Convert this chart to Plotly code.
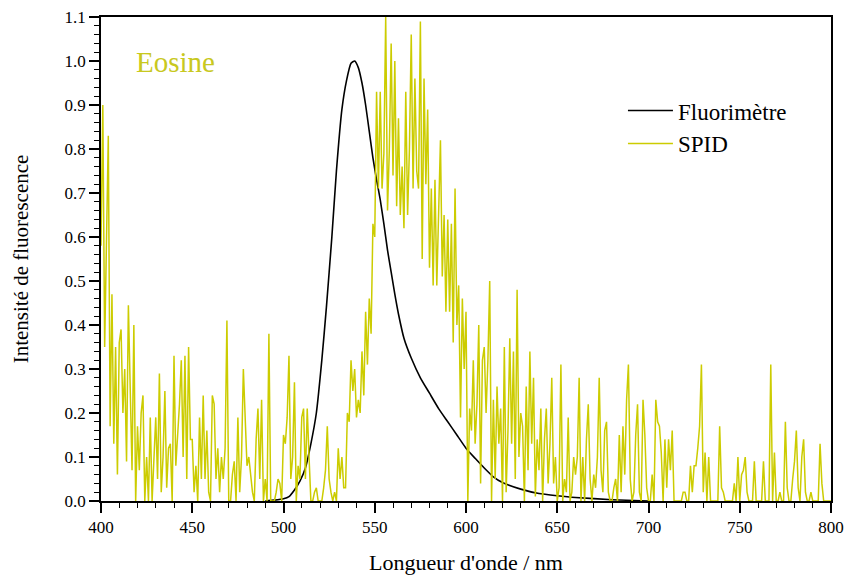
import plotly.graph_objects as go

# Fluorimètre (smooth reference spectrum)
fluor_x = [490, 495, 500, 503, 506, 509, 512, 515, 518, 521, 523.5, 526.5, 529, 532, 534.5, 537,
           539, 541, 543, 545, 547, 549, 551, 553, 555, 557, 559, 561, 563, 566, 570, 575,
           580, 585, 590, 595, 600, 605, 610, 615, 620, 630, 640, 650, 660, 680, 700]
fluor_y = [0.0, 0.002, 0.005, 0.01, 0.025, 0.045, 0.075, 0.13, 0.2, 0.32, 0.44, 0.6, 0.75, 0.89, 0.955, 0.995,
           1.0, 0.985, 0.95, 0.9, 0.84, 0.78, 0.73, 0.685, 0.63, 0.57, 0.52, 0.47, 0.425, 0.37, 0.325, 0.28,
           0.245, 0.21, 0.18, 0.15, 0.12, 0.097, 0.075, 0.055, 0.042, 0.027, 0.017, 0.012, 0.008, 0.003, 0.0]

# SPID (noisy spectrum), 1 nm steps from 400 nm
spid_start = 400
spid_y = [
    # 400-409
    0.58, 0.90, 0.35, 0.55, 0.83, 0.17, 0.47, 0.13, 0.35, 0.06,
    # 410-419
    0.36, 0.39, 0.20, 0.30, 0.09, 0.445, 0.26, 0.07, 0.40, 0.0,
    # 420-429
    0.17, 0.07, 0.20, 0.24, 0.0, 0.10, 0.0, 0.19, 0.0, 0.08,
    # 430-439
    0.19, 0.05, 0.29, 0.02, 0.10, 0.25, 0.03, 0.12, 0.13, 0.0,
    # 440-449
    0.33, 0.08, 0.15, 0.22, 0.32, 0.10, 0.33, 0.05, 0.35, 0.14,
    # 450-459
    0.14, 0.02, 0.08, 0.0, 0.19, 0.05, 0.24, 0.05, 0.16, 0.02,
    # 460-469
    0.0, 0.24, 0.22, 0.05, 0.12, 0.02, 0.10, 0.05, 0.12, 0.41,
    # 470-479
    0.0, 0.0, 0.06, 0.09, 0.0, 0.19, 0.02, 0.10, 0.30, 0.17,
    # 480-489
    0.08, 0.10, 0.05, 0.02, 0.0, 0.14, 0.21, 0.05, 0.23, 0.0,
    # 490-499
    0.05, 0.0, 0.38, 0.0, 0.0, 0.0, 0.02, 0.05, 0.04, 0.0,
    # 500-509
    0.15, 0.13, 0.19, 0.33, 0.05, 0.10, 0.27, 0.0, 0.08, 0.05,
    # 510-519
    0.19, 0.21, 0.05, 0.21, 0.10, 0.0, 0.0, 0.02, 0.03, 0.0,
    # 520-529
    0.0, 0.0, 0.03, 0.07, 0.17, 0.05, 0.02, 0.0, 0.02, 0.0,
    # 530-539
    0.12, 0.05, 0.10, 0.03, 0.03, 0.20, 0.18, 0.32, 0.25, 0.30,
    # 540-549
    0.19, 0.23, 0.20, 0.34, 0.24, 0.43, 0.31, 0.46, 0.38, 0.63,
    # 550-559
    0.60, 0.93, 0.71, 0.93, 0.71, 0.79, 1.10, 0.66, 0.80, 1.04,
    # 560-569
    0.74, 1.00, 0.67, 0.87, 0.65, 0.76, 0.62, 0.93, 0.65, 0.80,
    # 570-579
    1.06, 0.71, 0.96, 0.75, 0.71, 1.09, 0.55, 0.96, 0.72, 0.89,
    # 580-589
    0.53, 0.71, 0.49, 0.73, 0.49, 0.65, 0.82, 0.51, 0.65, 0.43,
    # 590-599
    0.64, 0.43, 0.63, 0.36, 0.71, 0.40, 0.49, 0.19, 0.46, 0.30,
    # 600-609
    0.43, 0.0, 0.21, 0.16, 0.32, 0.13, 0.22, 0.40, 0.04, 0.32,
    # 610-619
    0.35, 0.20, 0.32, 0.50, 0.0, 0.23, 0.05, 0.26, 0.13, 0.21,
    # 620-629
    0.0, 0.35, 0.02, 0.16, 0.37, 0.13, 0.34, 0.05, 0.48, 0.10,
    # 630-639
    0.20, 0.17, 0.0, 0.26, 0.07, 0.34, 0.13, 0.28, 0.01, 0.14,
    # 640-649
    0.07, 0.21, 0.0, 0.14, 0.21, 0.04, 0.13, 0.28, 0.04, 0.10,
    # 650-659
    0.0, 0.03, 0.31, 0.0, 0.05, 0.02, 0.19, 0.0, 0.02, 0.10,
    # 660-669
    0.06, 0.10, 0.28, 0.0, 0.10, 0.0, 0.14, 0.22, 0.05, 0.0,
    # 670-679
    0.06, 0.03, 0.10, 0.28, 0.07, 0.02, 0.16, 0.18, 0.02, 0.0,
    # 680-689
    0.0, 0.03, 0.05, 0.0, 0.15, 0.02, 0.17, 0.06, 0.23, 0.31,
    # 690-699
    0.05, 0.0, 0.02, 0.15, 0.22, 0.02, 0.0, 0.23, 0.15, 0.03,
    # 700-709
    0.0, 0.0, 0.06, 0.0, 0.23, 0.18, 0.17, 0.11, 0.0, 0.14,
    # 710-719
    0.03, 0.14, 0.07, 0.16, 0.0, 0.0, 0.0, 0.0, 0.0, 0.02,
    # 720-729
    0.02, 0.0, 0.0, 0.08, 0.02, 0.08, 0.08, 0.12, 0.17, 0.31,
    # 730-739
    0.02, 0.11, 0.0, 0.10, 0.0, 0.0, 0.0, 0.0, 0.0, 0.17,
    # 740-749
    0.03, 0.02, 0.0, 0.0, 0.0, 0.0, 0.0, 0.04, 0.0, 0.10,
    # 750-759
    0.0, 0.06, 0.07, 0.10, 0.02, 0.0, 0.0, 0.0, 0.09, 0.0,
    # 760-769
    0.0, 0.0, 0.0, 0.09, 0.0, 0.0, 0.0, 0.31, 0.0, 0.11,
    # 770-779
    0.0, 0.0, 0.02, 0.0, 0.0, 0.18, 0.03, 0.0, 0.0, 0.05,
    # 780-789
    0.09, 0.16, 0.03, 0.0, 0.10, 0.14, 0.02, 0.0, 0.0, 0.02,
    # 790-800
    0.0, 0.0, 0.0, 0.0, 0.13, 0.04, 0.0, 0.0, 0.0, 0.0, 0.0,
]
spid_x = [spid_start + i for i in range(len(spid_y))]

x_ticks = [400, 450, 500, 550, 600, 650, 700, 750, 800]
y_ticks = [0.0, 0.1, 0.2, 0.3, 0.4, 0.5, 0.6, 0.7, 0.8, 0.9, 1.0, 1.1]

SERIF = "Liberation Serif"
YELLOW = "#cccc00"

fig = go.Figure()
fig.add_trace(go.Scatter(x=fluor_x, y=fluor_y, mode="lines", name="Fluorimètre",
                         line=dict(color="black", width=1.6, shape="spline", smoothing=0.5)))
fig.add_trace(go.Scatter(x=spid_x, y=spid_y, mode="lines", name="SPID",
                         line=dict(color=YELLOW, width=1.5)))

fig.add_annotation(x=0.045, y=0.907, xref="paper", yref="paper", text="Eosine",
                   showarrow=False, xanchor="left", yanchor="middle",
                   font=dict(family=SERIF, size=29, color="#c8c820"))

axis_common = dict(showgrid=False, zeroline=False, showline=True, linecolor="black",
                   linewidth=1.5, mirror=True, ticks="outside", ticklen=10, tickwidth=1.5,
                   tickcolor="black", automargin=False,
                   tickfont=dict(family=SERIF, size=17, color="black"))

fig.update_xaxes(range=[400, 800], tickvals=x_ticks, ticktext=[str(v) for v in x_ticks],
                 minor=dict(dtick=10, tick0=400, ticks="outside", ticklen=5, tickwidth=1.2, tickcolor="black"),
                 title=dict(text="Longueur d'onde / nm", font=dict(family=SERIF, size=22, color="black"), standoff=18),
                 **axis_common)
fig.update_yaxes(range=[0, 1.1], tickvals=y_ticks, ticktext=[f"{v:.1f}" for v in y_ticks],
                 minor=dict(dtick=0.02, tick0=0, ticks="outside", ticklen=5, tickwidth=1.2, tickcolor="black"),
                 title=dict(text="Intensité de fluorescence", font=dict(family=SERIF, size=21, color="black"), standoff=30),
                 **axis_common)

fig.update_layout(
    width=851, height=577,
    margin=dict(l=101, r=20, t=17, b=76),
    paper_bgcolor="white", plot_bgcolor="white",
    font=dict(family=SERIF, color="black"),
    showlegend=True,
    legend=dict(x=0.715, y=0.851, xanchor="left", yanchor="top", bgcolor="rgba(0,0,0,0)",
                font=dict(family=SERIF, size=23, color="black"), tracegroupgap=0, itemwidth=45),
)

fig.write_html("out.html")
